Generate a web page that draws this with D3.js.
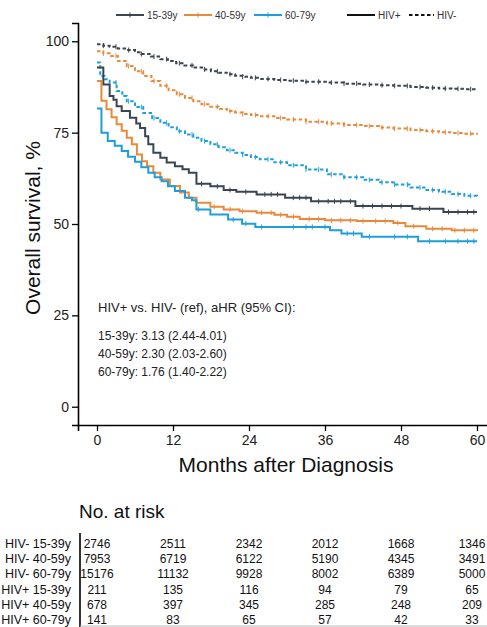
<!DOCTYPE html>
<html>
<head>
<meta charset="utf-8">
<script src="https://cdn.jsdelivr.net/npm/d3@7"></script>
<style>
  body { margin: 0; background: #fff; }
  svg { display: block; font-family: "Liberation Sans", Arial, sans-serif; }
</style>
</head>
<body>
<svg width="487" height="627"></svg>
<script>
const width = 487, height = 627;

// survival step points [month, %]
const hivPos15 = [[0,92.8],[1,88.2],[2,85],[2.6,84],[3.1,82.2],[3.9,80.9],[5.2,79.1],[6.2,77.5],[6.8,76.3],[7.6,74],[8.1,71.8],[8.9,69.5],[10,68.1],[11,66.8],[12.3,65.8],[13.5,65],[14.5,64],[15.7,61],[17.9,60.3],[20,59.3],[22,58.8],[25.2,58.1],[29.7,57.2],[33.8,56.2],[40.8,54.9],[49.8,54.2],[54.7,53.3],[60,53.3]];
const hivPos40 = [[0,89.1],[0.7,83.7],[1.5,81.4],[2.3,79.2],[3.1,77.3],[3.9,75.5],[4.7,73.6],[5.5,71.8],[6.3,69],[7.1,67.2],[7.9,65.8],[8.9,64],[10,62.2],[11.5,60.4],[13.1,58.6],[14.5,57.2],[15.7,55.8],[17.9,54.7],[20,54],[22.5,53.5],[25.2,53.1],[28,52.5],[30,52],[32,51.4],[36,51],[41,50.8],[46.8,50.3],[48.7,49.4],[52,48.7],[56,48.3],[60,48.1]];
const hivPos60 = [[0,81.6],[0.7,75],[1.7,72.7],[2.8,71.4],[3.9,70],[4.9,68.4],[6,67],[7,65.5],[8.1,64],[9.1,62.8],[10.2,61.7],[11.2,60.3],[12.3,59],[13.9,57.2],[15,56.5],[15.7,54],[17.9,52.6],[20.7,51.2],[22.9,50.1],[25,49.2],[36.8,48.3],[38.6,47.4],[41.8,46.5],[50.7,45.3],[60,45.3]];
const hivNeg15 = [[0,99.2],[1,98.8],[2,98.5],[3.3,98],[4.7,97.6],[6,97],[7,96.5],[8.5,95.8],[10,95.1],[11.2,94.6],[12.5,94],[13.8,93.4],[15.2,92.8],[16.6,92.3],[18,91.8],[19.2,91.4],[20.5,91],[21.8,90.6],[23,90.3],[24.3,90],[25.7,89.7],[28,89.4],[30,89.2],[33,88.9],[36.3,88.7],[39,88.4],[42,88.2],[44.5,88],[46.8,87.8],[49.5,87.5],[52,87.3],[54,87.1],[56,87],[58,86.9],[60,86.8]];
const hivNeg40 = [[0,97.3],[1,96.7],[2,96],[3.3,94.6],[4.7,93.2],[6,91.8],[7.3,90.5],[8.6,89.1],[10,87.8],[11.3,86.6],[12.6,85.5],[13.9,84.5],[15.2,83.6],[16.5,82.8],[17.9,82.1],[19.2,81.5],[20.5,80.9],[21.8,80.5],[23,80.1],[24.3,79.8],[25.7,79.5],[28,79],[30,78.6],[33,78],[36.3,77.5],[39,77.1],[42,76.8],[44.5,76.4],[46.8,76.1],[49.5,75.7],[52,75.4],[54,75.1],[56,74.9],[58,74.7],[60,74.5]];
const hivNeg60 = [[0,94.2],[0.5,90.5],[1.2,89.6],[2,88.7],[3.1,86.4],[4,85],[4.7,83.6],[6,82],[7.3,80.4],[8.7,79],[10,77.7],[11.3,76.5],[12.6,75.4],[13.9,74.5],[15.2,73.6],[16.5,72.7],[17.9,71.8],[19.2,71],[20.5,70.2],[21.8,69.5],[23,68.9],[24.3,68.3],[25.7,67.7],[28,66.9],[30,66.1],[33,64.9],[36.3,63.6],[39,62.8],[42,62.1],[44.5,61.4],[46.8,60.8],[49.5,60],[52,59.3],[54,58.8],[56,58.2],[58,57.7],[60,57.2]];

// censoring marks (months)
const censorPos15 = [16.5,19,21,23.5,26.5,27.5,28.5,31,32,33,35,36.5,37.5,38.5,40,42,43.5,45,46.5,48,51,52.5,55.5,57,58.5,59.5];
const censorPos40 = [18.5,21,23,26,27.5,29,31,33.5,35,37,38.5,40,42,44,45.5,47.5,50,53,54.5,56.5,58,59.5];
const censorPos60 = [16,21.5,23.5,26,31,33,34,36,39.5,40.5,43,47,49,52.5,55,57,58.5,59.5];
const censorNeg = [1,3,5,7,9,11,13,15,17,19,21,23,25,27,29,31,33,35,37,39,41,43,45,47,49,51,53,55,57,59];

const groups = ["15-39y", "40-59y", "60-79y"];
const colors = ["#3a4550", "#e8893b", "#1e9fdb"];

const hrLabel = "HIV+ vs. HIV- (ref), aHR (95% CI):";
const hrLines = ["15-39y: 3.13 (2.44-4.01)", "40-59y: 2.30 (2.03-2.60)", "60-79y: 1.76 (1.40-2.22)"];

const xTicks = [0, 12, 24, 36, 48, 60];
const yTicks = [0, 25, 50, 75, 100];

const riskLabels = ["HIV- 15-39y", "HIV- 40-59y", "HIV- 60-79y", "HIV+ 15-39y", "HIV+ 40-59y", "HIV+ 60-79y"];
const riskCounts = [
  [2746, 2511, 2342, 2012, 1668, 1346],
  [7953, 6719, 6122, 5190, 4345, 3491],
  [15176, 11132, 9928, 8002, 6389, 5000],
  [211, 135, 116, 94, 79, 65],
  [678, 397, 345, 285, 248, 209],
  [141, 83, 65, 57, 42, 33]
];

const series = [
  { pts: hivNeg15, color: colors[0], dash: true, cens: censorNeg },
  { pts: hivNeg40, color: colors[1], dash: true, cens: censorNeg },
  { pts: hivNeg60, color: colors[2], dash: true, cens: censorNeg },
  { pts: hivPos15, color: colors[0], dash: false, cens: censorPos15 },
  { pts: hivPos40, color: colors[1], dash: false, cens: censorPos40 },
  { pts: hivPos60, color: colors[2], dash: false, cens: censorPos60 }
];

const svg = d3.select("svg");

const x = d3.scaleLinear().domain([-3, 63]).range([78, 496]);
const y = d3.scaleLinear().domain([-5, 105]).range([425, 23]);

// axes
const yAxis = svg.append("g")
  .attr("transform", "translate(78,0)")
  .call(d3.axisLeft(y).tickValues(yTicks).tickSize(6).tickPadding(3));
yAxis.select(".domain").attr("stroke", "#000").attr("stroke-width", 1.6);
yAxis.selectAll(".tick line").attr("stroke-width", 1.3);
yAxis.selectAll(".tick text").attr("font-size", 14).attr("fill", "#222")
  .attr("font-family", "Liberation Sans, Arial, sans-serif");

const xAxis = svg.append("g")
  .attr("transform", "translate(0,425)")
  .call(d3.axisBottom(x).tickValues(xTicks).tickSize(6).tickPadding(4));
xAxis.select(".domain").attr("stroke", "#000").attr("stroke-width", 1.6);
xAxis.selectAll(".tick line").attr("stroke-width", 1.3);
xAxis.selectAll(".tick text").attr("font-size", 14).attr("fill", "#222")
  .attr("font-family", "Liberation Sans, Arial, sans-serif");

svg.append("text")
  .attr("x", 286).attr("y", 472)
  .attr("text-anchor", "middle")
  .attr("font-size", 21).attr("fill", "#111")
  .text("Months after Diagnosis");

svg.append("text")
  .attr("transform", "translate(40,228) rotate(-90)")
  .attr("text-anchor", "middle")
  .attr("font-size", 21).attr("fill", "#111")
  .text("Overall survival, %");

// curves
const line = d3.line()
  .x(d => x(d[0]))
  .y(d => y(d[1]))
  .curve(d3.curveStepAfter);

const valueAt = (pts, t) => {
  const i = d3.bisector(d => d[0]).right(pts, t) - 1;
  return pts[Math.max(0, i)][1];
};

series.forEach(s => {
  svg.append("path")
    .datum(s.pts)
    .attr("fill", "none")
    .attr("stroke", s.color)
    .attr("stroke-width", 2)
    .attr("stroke-dasharray", s.dash ? "3.5,2.5" : null)
    .attr("d", line);

  svg.append("g").selectAll("line")
    .data(s.cens)
    .enter().append("line")
    .attr("x1", d => x(d)).attr("x2", d => x(d))
    .attr("y1", d => y(valueAt(s.pts, d)) - 2.5)
    .attr("y2", d => y(valueAt(s.pts, d)) + 2.5)
    .attr("stroke", s.color)
    .attr("stroke-width", 1);
});

// legend
const legend = svg.append("g");
const legX = [116, 184, 254];
groups.forEach((g, i) => {
  legend.append("line")
    .attr("x1", legX[i]).attr("x2", legX[i] + 28)
    .attr("y1", 15).attr("y2", 15)
    .attr("stroke", colors[i]).attr("stroke-width", 2);
  legend.append("line")
    .attr("x1", legX[i] + 14).attr("x2", legX[i] + 14)
    .attr("y1", 12.5).attr("y2", 17.5)
    .attr("stroke", colors[i]).attr("stroke-width", 1);
  legend.append("text")
    .attr("x", legX[i] + 31).attr("y", 18.5)
    .attr("font-size", 10).attr("fill", "#333")
    .text(g);
});
legend.append("line")
  .attr("x1", 347).attr("x2", 375).attr("y1", 15).attr("y2", 15)
  .attr("stroke", "#111").attr("stroke-width", 2);
legend.append("text")
  .attr("x", 378).attr("y", 18.5).attr("font-size", 10).attr("fill", "#333")
  .text("HIV+");
legend.append("line")
  .attr("x1", 409).attr("x2", 434).attr("y1", 15).attr("y2", 15)
  .attr("stroke", "#111").attr("stroke-width", 2)
  .attr("stroke-dasharray", "3.5,2.5");
legend.append("text")
  .attr("x", 437).attr("y", 18.5).attr("font-size", 10).attr("fill", "#333")
  .text("HIV-");

// hazard ratio annotation
svg.append("text")
  .attr("x", 98).attr("y", 312)
  .attr("font-size", 13).attr("fill", "#222")
  .text(hrLabel);
svg.append("g").selectAll("text")
  .data(hrLines)
  .enter().append("text")
  .attr("x", 98)
  .attr("y", (d, i) => 340 + i * 18)
  .attr("font-size", 12).attr("fill", "#222")
  .text(d => d);

// number at risk table
svg.append("text")
  .attr("x", 79).attr("y", 518)
  .attr("font-size", 19).attr("fill", "#111")
  .text("No. at risk");

const rowY = d3.scalePoint().domain(riskLabels).range([548, 624]);

svg.append("line")
  .attr("x1", 80).attr("x2", 80).attr("y1", 533).attr("y2", 627)
  .attr("stroke", "#000").attr("stroke-width", 1.6);
svg.append("line")
  .attr("x1", 80).attr("x2", 487).attr("y1", 626).attr("y2", 626)
  .attr("stroke", "#bbb").attr("stroke-width", 1);

svg.append("g").selectAll("text")
  .data(riskLabels)
  .enter().append("text")
  .attr("x", 71)
  .attr("y", d => rowY(d))
  .attr("text-anchor", "end")
  .attr("font-size", 12.5).attr("fill", "#111")
  .text(d => d);

riskCounts.forEach((row, r) => {
  svg.append("g").selectAll("text")
    .data(row)
    .enter().append("text")
    .attr("x", (d, i) => Math.min(x(xTicks[i]), 472))
    .attr("y", rowY(riskLabels[r]))
    .attr("text-anchor", "middle")
    .attr("font-size", 12).attr("fill", "#111")
    .text(d => d);
});
</script>
</body>
</html>
